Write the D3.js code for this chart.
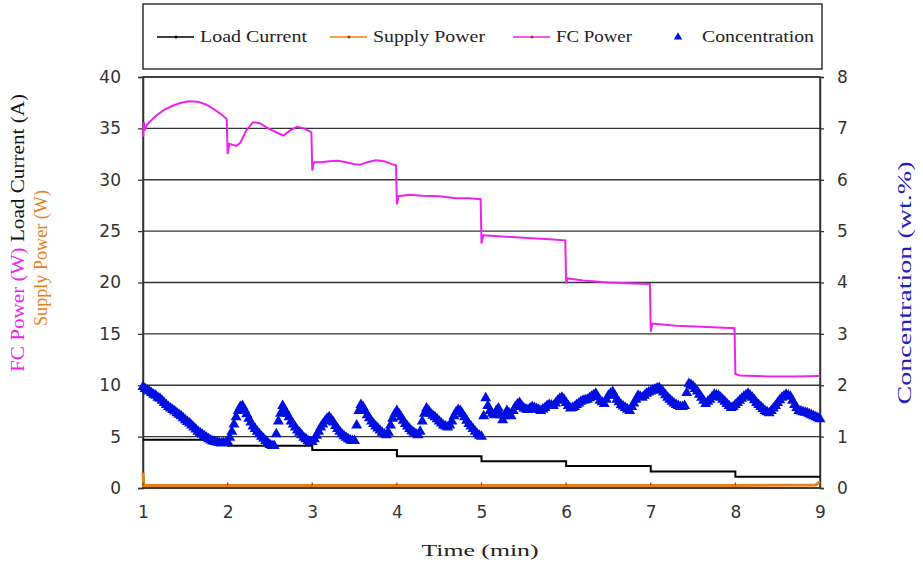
<!DOCTYPE html>
<html>
<head>
<meta charset="utf-8">
<script src="https://cdn.jsdelivr.net/npm/d3@7"></script>
<style>
  body { margin: 0; background: #fff; }
  svg { display: block; }
</style>
</head>
<body>
<svg id="chart" width="923" height="570"></svg>
<script>
"use strict";

// ---- data ----
// load current (A), step changes once a minute
const loadTimes = [1, 2, 3, 4, 5, 6, 7, 8, 9];
const loadValues = [4.7, 4.1, 3.7, 3.1, 2.6, 2.15, 1.6, 1.1, 1.1];

// supply power (W), near zero
const supplyTimes = [1.0, 1.01, 2, 3, 4, 5, 6, 7, 8, 8.95, 9.0];
const supplyValues = [1.5, 0.25, 0.25, 0.25, 0.25, 0.25, 0.25, 0.25, 0.25, 0.3, 0.6];

// fuel cell power (W)
const fcTimes = [1.00, 1.01, 1.02, 1.05, 1.15, 1.25, 1.35, 1.45, 1.55, 1.65, 1.75, 1.85, 1.95, 1.99,
  2.00, 2.02, 2.10, 2.15, 2.22, 2.30, 2.38, 2.48, 2.58, 2.66, 2.74, 2.82, 2.90, 2.97, 2.99,
  3.00, 3.02, 3.10, 3.20, 3.30, 3.40, 3.50, 3.56, 3.65, 3.75, 3.85, 3.95, 3.99,
  4.00, 4.02, 4.15, 4.30, 4.50, 4.70, 4.85, 4.99,
  5.00, 5.02, 5.20, 5.50, 5.80, 5.99,
  6.00, 6.02, 6.20, 6.50, 6.80, 6.99,
  7.00, 7.02, 7.30, 7.60, 7.99,
  8.00, 8.05, 8.40, 8.70, 9.00];
const fcValues = [34.2, 35.6, 34.8, 35.4, 36.2, 36.8, 37.2, 37.5, 37.65, 37.6, 37.3, 36.8, 36.2, 35.9,
  32.5, 33.5, 33.3, 33.6, 34.8, 35.6, 35.5, 35.0, 34.6, 34.3, 34.8, 35.15, 35.0, 34.7, 34.6,
  30.9, 31.7, 31.7, 31.8, 31.85, 31.7, 31.5, 31.45, 31.7, 31.9, 31.8, 31.5, 31.4,
  27.6, 28.4, 28.55, 28.45, 28.4, 28.2, 28.2, 28.1,
  23.8, 24.6, 24.5, 24.35, 24.2, 24.1,
  19.9, 20.4, 20.2, 20.0, 19.9, 19.85,
  15.2, 16.0, 15.8, 15.7, 15.55,
  11.1, 10.95, 10.85, 10.85, 10.9];

// concentration (wt.%), one sample every 0.025 min from t = 1
const concStart = 1;
const concStep = 0.025;
const concValues = [
  // 1 min
  1.97, 1.93, 1.90, 1.88, 1.85, 1.82, 1.80, 1.76, 1.74, 1.70,
  1.66, 1.62, 1.58, 1.55, 1.52, 1.49, 1.46, 1.43, 1.40, 1.36,
  1.32, 1.29, 1.26, 1.22, 1.18, 1.14, 1.10, 1.07, 1.04, 1.01,
  0.98, 0.95, 0.93, 0.91, 0.90, 0.89, 0.88, 0.87, 0.88, 0.88,
  // 2 min
  0.90, 0.98, 1.10, 1.24, 1.38, 1.50, 1.58, 1.60, 1.52, 1.44,
  1.35, 1.28, 1.20, 1.15, 1.10, 1.05, 1.00, 0.96, 0.92, 0.88,
  0.84, 0.82, 0.82, 1.05, 1.30, 1.45, 1.60, 1.52, 1.45, 1.38,
  1.30, 1.24, 1.18, 1.12, 1.08, 1.03, 0.98, 0.95, 0.92, 0.90,
  // 3 min
  0.90, 0.95, 1.02, 1.10, 1.18, 1.24, 1.30, 1.35, 1.38, 1.33,
  1.28, 1.21, 1.15, 1.10, 1.05, 1.01, 0.98, 0.95, 0.93, 0.92,
  0.92, 1.22, 1.50, 1.62, 1.58, 1.50, 1.42, 1.36, 1.30, 1.25,
  1.20, 1.16, 1.12, 1.08, 1.05, 1.03, 1.08, 1.22, 1.35, 1.44,
  // 4 min
  1.50, 1.44, 1.38, 1.31, 1.25, 1.20, 1.15, 1.11, 1.08, 1.05,
  1.03, 1.10, 1.30, 1.45, 1.55, 1.50, 1.45, 1.41, 1.38, 1.34,
  1.30, 1.26, 1.22, 1.20, 1.18, 1.22, 1.30, 1.40, 1.48, 1.52,
  1.50, 1.44, 1.38, 1.31, 1.25, 1.20, 1.15, 1.10, 1.05, 1.02,
  // 5 min
  1.00, 1.40, 1.75, 1.60, 1.50, 1.45, 1.42, 1.50, 1.55, 1.42,
  1.32, 1.40, 1.50, 1.46, 1.40, 1.50, 1.58, 1.63, 1.66, 1.60,
  1.55, 1.53, 1.52, 1.55, 1.58, 1.56, 1.54, 1.52, 1.50, 1.53,
  1.56, 1.60, 1.62, 1.61, 1.60, 1.65, 1.70, 1.74, 1.76, 1.72,
  // 6 min
  1.66, 1.60, 1.55, 1.56, 1.58, 1.62, 1.65, 1.68, 1.70, 1.71,
  1.72, 1.75, 1.78, 1.81, 1.84, 1.77, 1.70, 1.67, 1.64, 1.72,
  1.80, 1.84, 1.87, 1.80, 1.72, 1.67, 1.62, 1.59, 1.56, 1.53,
  1.50, 1.58, 1.65, 1.72, 1.80, 1.78, 1.76, 1.80, 1.84, 1.86,
  // 7 min
  1.88, 1.90, 1.92, 1.94, 1.95, 1.90, 1.86, 1.81, 1.76, 1.72,
  1.68, 1.65, 1.62, 1.60, 1.58, 1.58, 1.60, 1.85, 2.03, 2.01,
  1.98, 1.93, 1.88, 1.82, 1.76, 1.70, 1.64, 1.68, 1.72, 1.77,
  1.82, 1.81, 1.80, 1.76, 1.72, 1.68, 1.64, 1.60, 1.56, 1.58,
  // 8 min
  1.62, 1.66, 1.70, 1.74, 1.78, 1.81, 1.84, 1.80, 1.76, 1.71,
  1.66, 1.62, 1.58, 1.54, 1.50, 1.48, 1.46, 1.50, 1.55, 1.60,
  1.66, 1.71, 1.76, 1.79, 1.82, 1.80, 1.78, 1.70, 1.62, 1.56,
  1.50, 1.49, 1.48, 1.47, 1.46, 1.44, 1.42, 1.40, 1.38, 1.36,
  // 9 min
  1.34];

const timeTicks = [1, 2, 3, 4, 5, 6, 7, 8, 9];
const leftTicks = [0, 5, 10, 15, 20, 25, 30, 35, 40];
const rightTicks = [0, 1, 2, 3, 4, 5, 6, 7, 8];

// ---- colours ----
const colLoad = "#000000";
const colSupply = "#e8801a";
const colFC = "#ee22ee";
const colConc = "#0010e0";

const svg = d3.select("#chart");

// plot frame
const plot = { left: 143, right: 820, top: 77, bottom: 488 };

const x = d3.scaleLinear().domain([1, 9]).range([plot.left, plot.right]);
const yL = d3.scaleLinear().domain([0, 40]).range([plot.bottom, plot.top]);
const yR = d3.scaleLinear().domain([0, 8]).range([plot.bottom, plot.top]);

// horizontal grid lines
svg.append("g")
  .selectAll("line")
  .data(leftTicks)
  .enter()
  .append("line")
  .attr("x1", plot.left)
  .attr("x2", plot.right)
  .attr("y1", d => yL(d))
  .attr("y2", d => yL(d))
  .attr("stroke", "#333")
  .attr("stroke-width", 1.3);

// left axis
const gLeft = svg.append("g")
  .attr("transform", "translate(" + plot.left + ",0)")
  .call(d3.axisLeft(yL).tickValues(leftTicks).tickSize(5).tickPadding(17));
gLeft.selectAll("text")
  .style("font-family", "DejaVu Sans")
  .style("font-size", "17px")
  .attr("fill", "#333");

// right axis
const gRight = svg.append("g")
  .attr("transform", "translate(" + plot.right + ",0)")
  .call(d3.axisRight(yR).tickValues(rightTicks).tickSize(4).tickPadding(13));
gRight.selectAll("text")
  .style("font-family", "DejaVu Sans")
  .style("font-size", "17px")
  .attr("fill", "#333");

// bottom axis (labels only, the frame draws the line)
const gBottom = svg.append("g")
  .attr("transform", "translate(0," + plot.bottom + ")")
  .call(d3.axisBottom(x).tickValues(timeTicks).tickSize(0).tickPadding(18).tickFormat(d3.format("d")));
gBottom.select(".domain").remove();
gBottom.selectAll("text")
  .style("font-family", "DejaVu Sans")
  .style("font-size", "17px")
  .attr("fill", "#333");

[gLeft, gRight].forEach(g => {
  g.select(".domain").attr("stroke", "#333").attr("stroke-width", 1.5);
  g.selectAll(".tick line").attr("stroke", "#333").attr("stroke-width", 1.3);
});

// plot frame
svg.append("rect")
  .attr("x", plot.left)
  .attr("y", plot.top)
  .attr("width", plot.right - plot.left)
  .attr("height", plot.bottom - plot.top)
  .attr("fill", "none")
  .attr("stroke", "#333")
  .attr("stroke-width", 1.5);

// supply power
const supplyLine = d3.line()
  .x((d, i) => x(supplyTimes[i]))
  .y(d => yL(d));
svg.append("path")
  .datum(supplyValues)
  .attr("d", supplyLine)
  .attr("fill", "none")
  .attr("stroke", colSupply)
  .attr("stroke-width", 3);
svg.append("g")
  .selectAll("line")
  .data(timeTicks)
  .enter()
  .append("line")
  .attr("x1", d => x(d))
  .attr("x2", d => x(d))
  .attr("y1", yL(0.25) - 3)
  .attr("y2", yL(0.25))
  .attr("stroke", "#7a4010")
  .attr("stroke-width", 1.2);

// load current (stepped)
const loadLine = d3.line()
  .x((d, i) => x(loadTimes[i]))
  .y(d => yL(d))
  .curve(d3.curveStepAfter);
svg.append("path")
  .datum(loadValues)
  .attr("d", loadLine)
  .attr("fill", "none")
  .attr("stroke", colLoad)
  .attr("stroke-width", 2);

// fuel cell power
const fcLine = d3.line()
  .x((d, i) => x(fcTimes[i]))
  .y(d => yL(d));
svg.append("path")
  .datum(fcValues)
  .attr("d", fcLine)
  .attr("fill", "none")
  .attr("stroke", colFC)
  .attr("stroke-width", 2);

// concentration triangles
const tri = d3.symbol().type(d3.symbolTriangle).size(52);
svg.append("g")
  .selectAll("path")
  .data(concValues)
  .enter()
  .append("path")
  .attr("d", tri)
  .attr("transform", (d, i) => "translate(" + x(concStart + i * concStep) + "," + yR(d) + ")")
  .attr("fill", colConc);

// ---- legend ----
const legend = svg.append("g");
legend.append("rect")
  .attr("x", 143)
  .attr("y", 4)
  .attr("width", 679)
  .attr("height", 65)
  .attr("fill", "none")
  .attr("stroke", "#333")
  .attr("stroke-width", 1.5);

const legendItems = [
  { name: "Load Current", color: colLoad, x: 157, w: 107, kind: "line" },
  { name: "Supply Power", color: colSupply, x: 330, w: 112, kind: "line" },
  { name: "FC Power", color: colFC, x: 513, w: 76, kind: "line" },
  { name: "Concentration", color: colConc, x: 663, w: 112, kind: "tri" }
];
const legendY = 37;
legendItems.forEach(it => {
  if (it.kind === "line") {
    legend.append("line")
      .attr("x1", it.x).attr("x2", it.x + 37)
      .attr("y1", legendY).attr("y2", legendY)
      .attr("stroke", it.color).attr("stroke-width", 1.5);
    legend.append("circle")
      .attr("cx", it.x + 19).attr("cy", legendY).attr("r", 1.5)
      .attr("fill", it.color === colLoad ? "#000" : "#a04010");
  } else {
    legend.append("path")
      .attr("d", d3.symbol().type(d3.symbolTriangle).size(30))
      .attr("transform", "translate(" + (it.x + 15) + "," + legendY + ")")
      .attr("fill", it.color);
  }
  legend.append("text")
    .attr("x", it.x + 43 + (it.kind === "tri" ? -4 : 0))
    .attr("y", legendY + 5)
    .attr("textLength", it.w)
    .attr("lengthAdjust", "spacingAndGlyphs")
    .style("font-family", "Liberation Serif")
    .style("font-size", "16px")
    .attr("fill", "#222")
    .text(it.name);
});

// ---- axis titles ----
const titleFont = "Liberation Serif";

const t1 = svg.append("text")
  .attr("transform", "translate(24,233) rotate(-90)")
  .attr("text-anchor", "middle")
  .attr("textLength", 278)
  .attr("lengthAdjust", "spacingAndGlyphs")
  .style("font-family", titleFont)
  .style("font-size", "18px");
t1.append("tspan").attr("fill", colFC).text("FC Power (W) ");
t1.append("tspan").attr("fill", "#111").text("Load Current (A)");

svg.append("text")
  .attr("transform", "translate(47,258) rotate(-90)")
  .attr("text-anchor", "middle")
  .attr("textLength", 136)
  .attr("lengthAdjust", "spacingAndGlyphs")
  .style("font-family", titleFont)
  .style("font-size", "18px")
  .attr("fill", colSupply)
  .text("Supply Power (W)");

svg.append("text")
  .attr("transform", "translate(911,283) rotate(-90)")
  .attr("text-anchor", "middle")
  .attr("textLength", 243)
  .attr("lengthAdjust", "spacingAndGlyphs")
  .style("font-family", titleFont)
  .style("font-size", "18px")
  .attr("fill", "#2020c0")
  .text("Concentration (wt.%)");

svg.append("text")
  .attr("x", 480)
  .attr("y", 556)
  .attr("text-anchor", "middle")
  .attr("textLength", 117)
  .attr("lengthAdjust", "spacingAndGlyphs")
  .style("font-family", titleFont)
  .style("font-size", "17px")
  .attr("fill", "#222")
  .text("Time (min)");
</script>
</body>
</html>
